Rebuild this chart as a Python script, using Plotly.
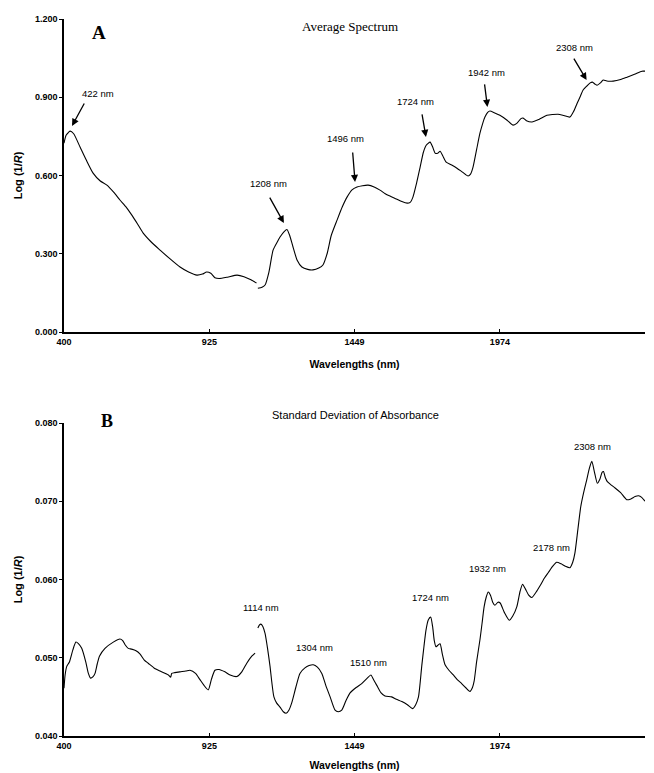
import plotly.graph_objects as go

# ---------------- Panel A: average spectrum ----------------
a_wl_1 = [400, 408, 422, 435, 458, 480, 505, 530, 555, 580, 602, 625, 645, 665, 686, 715, 747, 780,
          819, 850, 880, 900, 915, 930, 945, 960, 990, 1025, 1050, 1075, 1095]
a_val_1 = [0.724, 0.755, 0.770, 0.760, 0.709, 0.660, 0.609, 0.580, 0.563, 0.535, 0.506, 0.478, 0.448,
           0.415, 0.379, 0.345, 0.314, 0.283, 0.249, 0.230, 0.218, 0.222, 0.230, 0.225, 0.208, 0.205,
           0.210, 0.218, 0.212, 0.200, 0.188]
a_wl_2 = [1100, 1115, 1126, 1140, 1155, 1170, 1180, 1195, 1205, 1215, 1227, 1242, 1259, 1280, 1299, 1320,
          1335, 1350, 1365, 1386, 1405, 1422, 1440, 1458, 1478, 1498, 1520, 1541, 1560, 1577, 1600, 1620,
          1639, 1650, 1660, 1673, 1686, 1698, 1708, 1722, 1731, 1740, 1749, 1758, 1768, 1780, 1800, 1819,
          1840, 1859, 1868, 1877, 1890, 1902, 1912, 1920, 1930, 1938, 1955, 1974, 2000, 2021, 2035, 2050,
          2058, 2070, 2090, 2115, 2144, 2165, 2184, 2205, 2227, 2240, 2253, 2265, 2274, 2290, 2300, 2308,
          2318, 2325, 2337, 2347, 2360, 2383, 2410, 2433, 2460, 2487, 2498]
a_val_2 = [0.168, 0.172, 0.180, 0.230, 0.314, 0.345, 0.364, 0.385, 0.393, 0.370, 0.326, 0.275, 0.249,
           0.240, 0.238, 0.245, 0.257, 0.300, 0.370, 0.429, 0.480, 0.517, 0.545, 0.556, 0.561, 0.563,
           0.556, 0.544, 0.530, 0.521, 0.510, 0.500, 0.494, 0.497, 0.517, 0.570, 0.632, 0.690, 0.716,
           0.728, 0.710, 0.686, 0.685, 0.693, 0.675, 0.651, 0.640, 0.628, 0.612, 0.598, 0.605, 0.632,
           0.700, 0.762, 0.800, 0.824, 0.842, 0.847, 0.840, 0.831, 0.812, 0.793, 0.800, 0.818, 0.820,
           0.810, 0.805, 0.815, 0.831, 0.834, 0.835, 0.830, 0.824, 0.845, 0.877, 0.905, 0.927, 0.945,
           0.955, 0.958, 0.950, 0.946, 0.955, 0.966, 0.962, 0.962, 0.968, 0.977, 0.988, 1.000, 1.000]

# peak labels (text position, arrow tail, arrow head) for panel A
a_labels = ["422 nm", "1208 nm", "1496 nm", "1724 nm", "1942 nm", "2308 nm"]
a_label_x = [523, 1137, 1415, 1671, 1924, 2242]
a_label_y = [0.913, 0.571, 0.740, 0.882, 0.993, 1.089]
a_tail_x = [476, 1140, 1442, 1692, 1918, 2238]
a_tail_y = [0.882, 0.521, 0.694, 0.840, 0.955, 1.054]
a_head_x = [429, 1194, 1451, 1707, 1929, 2287]
a_head_y = [0.790, 0.418, 0.575, 0.748, 0.863, 0.966]

# ---------------- Panel B: standard deviation ----------------
b_wl_1 = [400, 404, 410, 420, 432, 443, 452, 464, 479, 488, 496, 505, 512, 520, 528, 548, 578, 602, 612,
          620, 632, 644, 660, 674, 690, 704, 725, 747, 777, 785, 789, 800, 819, 840, 855, 875, 891, 905,
          921, 932, 945, 960, 981, 1000, 1024, 1042, 1060, 1078, 1090]
b_val_1 = [0.0461, 0.0478, 0.0489, 0.0495, 0.0510, 0.0520, 0.0518, 0.0512, 0.0494, 0.0480, 0.0474,
           0.0476, 0.0480, 0.0492, 0.0502, 0.0512, 0.0520, 0.0524, 0.0522, 0.0517, 0.0512, 0.0511,
           0.0509, 0.0505, 0.0497, 0.0493, 0.0487, 0.0483, 0.0478, 0.0475, 0.0480, 0.0481, 0.0482,
           0.0483, 0.0484, 0.0480, 0.0472, 0.0465, 0.0459, 0.0472, 0.0484, 0.0485, 0.0482, 0.0478,
           0.0476, 0.0482, 0.0493, 0.0502, 0.0506]
b_wl_2 = [1100, 1106, 1111, 1118, 1126, 1135, 1144, 1150, 1158, 1168, 1180, 1192, 1202, 1212, 1222, 1237,
          1252, 1270, 1285, 1300, 1315, 1331, 1345, 1361, 1379, 1390, 1403, 1418, 1433, 1455, 1475, 1495,
          1508, 1518, 1529, 1545, 1559, 1583, 1600, 1620, 1640, 1659, 1670, 1680, 1692, 1700, 1707, 1715,
          1724, 1731, 1737, 1743, 1750, 1758, 1766, 1776, 1790, 1806, 1820, 1836, 1850, 1866, 1875, 1881,
          1890, 1902, 1910, 1917, 1925, 1932, 1940, 1948, 1956, 1967, 1975, 1990, 2008, 2020, 2035, 2047,
          2056, 2066, 2078, 2089, 2105, 2119, 2135, 2149, 2165, 2179, 2195, 2210, 2227, 2237, 2245, 2256,
          2266, 2277, 2288, 2297, 2306, 2315, 2326, 2335, 2343, 2348, 2355, 2362, 2375, 2390, 2410, 2432,
          2447, 2462, 2475, 2486, 2498]
b_val_2 = [0.0538, 0.0542, 0.0543, 0.0540, 0.0531, 0.0512, 0.0489, 0.0470, 0.0450, 0.0442, 0.0437,
           0.0431, 0.0429, 0.0433, 0.0442, 0.0462, 0.0480, 0.0487, 0.0490, 0.0491, 0.0488, 0.0480,
           0.0465, 0.0450, 0.0433, 0.0431, 0.0433, 0.0445, 0.0455, 0.0462, 0.0467, 0.0474, 0.0478,
           0.0472, 0.0465, 0.0455, 0.0451, 0.0450, 0.0447, 0.0444, 0.0440, 0.0435, 0.0440, 0.0450,
           0.0490, 0.0515, 0.0535, 0.0548, 0.0552, 0.0540, 0.0522, 0.0514, 0.0516, 0.0518, 0.0505,
           0.0491, 0.0484, 0.0478, 0.0472, 0.0467, 0.0462, 0.0457, 0.0462, 0.0470, 0.0495, 0.0523,
           0.0545, 0.0565, 0.0578, 0.0584, 0.0580, 0.0571, 0.0567, 0.0571, 0.0570, 0.0558, 0.0548,
           0.0553, 0.0565, 0.0585, 0.0594, 0.0588, 0.0580, 0.0577, 0.0584, 0.0592, 0.0602, 0.0609,
           0.0617, 0.0622, 0.0620, 0.0617, 0.0615, 0.0622, 0.0634, 0.0665, 0.0693, 0.0712, 0.0728,
           0.0742, 0.0751, 0.0738, 0.0723, 0.0728, 0.0737, 0.0738, 0.0730, 0.0725, 0.0721, 0.0717,
           0.0711, 0.0702, 0.0703, 0.0706, 0.0707, 0.0705, 0.0700]

b_labels = ["1114 nm", "1304 nm", "1510 nm", "1724 nm", "1932 nm", "2178 nm", "2308 nm"]
b_label_x = [1111, 1306, 1498, 1722, 1931, 2162, 2307]
b_label_y = [0.05636, 0.05125, 0.04933, 0.05776, 0.06147, 0.06415, 0.07706]

x_ticks = [400, 925, 1449, 1974, 2498]
a_yticks = [0.0, 0.3, 0.6, 0.9, 1.2]
b_yticks = [0.040, 0.050, 0.060, 0.070, 0.080]

W, H = 654, 773
line = dict(color="black", width=1.1, shape="spline", smoothing=0.6)

fig = go.Figure()
for xs, ys in [(a_wl_1, a_val_1), (a_wl_2, a_val_2)]:
    fig.add_trace(go.Scatter(x=xs, y=ys, mode="lines", line=line, xaxis="x", yaxis="y",
                             showlegend=False, hoverinfo="skip"))
for xs, ys in [(b_wl_1, b_val_1), (b_wl_2, b_val_2)]:
    fig.add_trace(go.Scatter(x=xs, y=ys, mode="lines", line=line, xaxis="x2", yaxis="y2",
                             showlegend=False, hoverinfo="skip"))

tickfont = dict(family="Liberation Sans", size=9, color="black", weight="bold")
titlefont = dict(family="Liberation Sans", size=10.5, color="black", weight="bold")
ytitlefont = dict(family="Liberation Sans", size=11, color="black", weight="bold")
xdom = [64 / W, 645 / W]
common_x = dict(range=[400, 2498], tickvals=x_ticks, showline=True, linecolor="black", linewidth=1.5,
                ticks="inside", ticklen=3, tickcolor="black", showgrid=False, zeroline=False,
                tickfont=tickfont, automargin=False, fixedrange=True, domain=xdom)
common_y = dict(showline=True, linecolor="black", linewidth=1.5, ticks="outside", ticklen=3,
                tickcolor="black", showgrid=False, zeroline=False, tickfont=tickfont,
                tickformat=".3f", automargin=False, fixedrange=True)

fig.update_layout(
    width=W, height=H, margin=dict(l=0, r=0, t=0, b=0),
    paper_bgcolor="white", plot_bgcolor="white",
    xaxis=dict(**common_x, anchor="y",
               title=dict(text="Wavelengths (nm)", font=titlefont, standoff=15)),
    yaxis=dict(**common_y, anchor="x", range=[0, 1.2], tickvals=a_yticks,
               domain=[1 - 332 / H, 1 - 19 / H],
               title=dict(text="Log (1/<i>R</i>)", font=ytitlefont, standoff=10)),
    xaxis2=dict(**common_x, anchor="y2",
                title=dict(text="Wavelengths (nm)", font=titlefont, standoff=12)),
    yaxis2=dict(**common_y, anchor="x2", range=[0.040, 0.080], tickvals=b_yticks,
                domain=[1 - 736 / H, 1 - 423 / H],
                title=dict(text="Log (1/<i>R</i>)", font=ytitlefont, standoff=10)),
)

ann = []
# panel letters and titles
ann.append(dict(text="<b>A</b>", x=90 / W, y=1 - 20 / H, xref="paper", yref="paper", showarrow=False,
                font=dict(family="Liberation Serif", size=19, color="black")))
ann.append(dict(text="<b>B</b>", x=99 / W, y=1 - 421 / H, xref="paper", yref="paper", showarrow=False,
                font=dict(family="Liberation Serif", size=18, color="black")))
ann.append(dict(text="Average Spectrum", x=350 / W, y=1 - 17 / H, xref="paper", yref="paper",
                showarrow=False, font=dict(family="Liberation Serif", size=13, color="black")))
ann.append(dict(text="Standard Deviation of Absorbance", x=355 / W, y=1 - 415 / H, xref="paper",
                yref="paper", showarrow=False,
                font=dict(family="Liberation Sans", size=11, color="black")))

lab_font = dict(family="Liberation Sans", size=9.5, color="black")
for t, lx, ly, tx, ty, hx, hy in zip(a_labels, a_label_x, a_label_y, a_tail_x, a_tail_y, a_head_x, a_head_y):
    ann.append(dict(text=t, x=lx, y=ly, xref="x", yref="y", showarrow=False, font=lab_font))
    ann.append(dict(text="", x=hx, y=hy, ax=tx, ay=ty, xref="x", yref="y", axref="x", ayref="y",
                    showarrow=True, arrowhead=2, arrowsize=1.1, arrowwidth=1.3, arrowcolor="black"))
for t, lx, ly in zip(b_labels, b_label_x, b_label_y):
    ann.append(dict(text=t, x=lx, y=ly, xref="x2", yref="y2", showarrow=False, font=lab_font))

fig.update_layout(annotations=ann)
fig.write_html("out.html")
